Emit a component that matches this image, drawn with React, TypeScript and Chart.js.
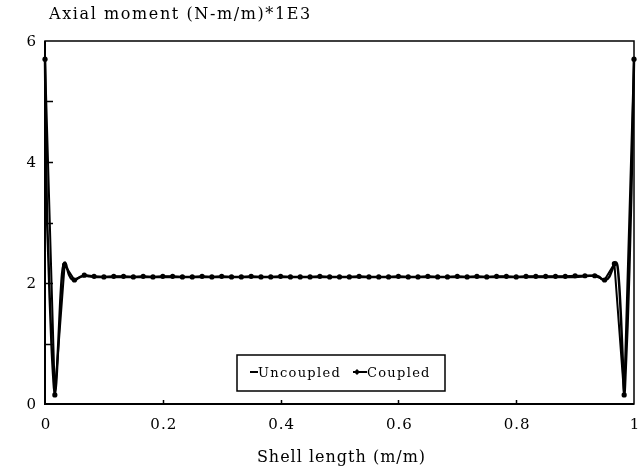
import { useEffect, useRef } from "react";
import { Chart, registerables } from "chart.js";

Chart.register(...registerables);

// Axial bending moment along the shell, two solution models
const chartTitle = "Axial moment (N-m/m)*1E3";
const xAxisTitle = "Shell length (m/m)";
const seriesNames = ["Uncoupled", "Coupled"];

const xTickValues = [0, 0.2, 0.4, 0.6, 0.8, 1];
const xTickLabels = ["0", "0.2", "0.4", "0.6", "0.8", "1"];
const yTickValues = [0, 2, 4, 6];
const yTickLabels = ["0", "2", "4", "6"];
const yMinorTicks = [1, 2, 3, 4, 5];
const xMinorTicks = [0.2, 0.4, 0.6, 0.8];

// Uncoupled solution (dense near the clamped ends)
const uncoupledX = [
  0, 0.0015, 0.003, 0.0055, 0.008, 0.011, 0.014, 0.0165, 0.019, 0.0226,
  0.026, 0.029, 0.032, 0.034, 0.037, 0.041, 0.046, 0.051, 0.056, 0.062,
  0.068, 0.075, 0.085, 0.1, 0.2, 0.3, 0.4, 0.5, 0.6, 0.7,
  0.8, 0.9, 0.915, 0.925, 0.935, 0.941, 0.946, 0.952, 0.958, 0.963,
  0.967, 0.9695, 0.972, 0.975, 0.978, 0.981, 0.9835, 0.986, 0.989, 0.992,
  0.9955, 0.998, 1,
];
const uncoupledY = [
  5.7, 4.4, 3.3, 2.5, 1.75, 1.0, 0.45, 0.15, 0.35, 1.0,
  1.7, 2.15, 2.32, 2.34, 2.26, 2.13, 2.06, 2.05, 2.08, 2.11,
  2.12, 2.11, 2.1, 2.1, 2.1, 2.1, 2.1, 2.1, 2.1, 2.1,
  2.1, 2.1, 2.11, 2.12, 2.12, 2.1, 2.06, 2.05, 2.1, 2.22,
  2.32, 2.34, 2.28, 1.95, 1.4, 0.7, 0.15, 0.6, 1.3, 2.2,
  3.5, 4.6, 5.7,
];

// Coupled solution, sampled at the mesh nodes
const coupledX = [
  0, 0.0167, 0.0333, 0.05, 0.0667, 0.0833, 0.1, 0.1167, 0.1333, 0.15,
  0.1667, 0.1833, 0.2, 0.2167, 0.2333, 0.25, 0.2667, 0.2833, 0.3, 0.3167,
  0.3333, 0.35, 0.3667, 0.3833, 0.4, 0.4167, 0.4333, 0.45, 0.4667, 0.4833,
  0.5, 0.5167, 0.5333, 0.55, 0.5667, 0.5833, 0.6, 0.6167, 0.6333, 0.65,
  0.6667, 0.6833, 0.7, 0.7167, 0.7333, 0.75, 0.7667, 0.7833, 0.8, 0.8167,
  0.8333, 0.85, 0.8667, 0.8833, 0.9, 0.9167, 0.9333, 0.95, 0.9667, 0.9833,
  1,
];
const coupledY = [
  5.7, 0.15, 2.3, 2.05, 2.13, 2.11, 2.1, 2.11, 2.11, 2.1,
  2.11, 2.1, 2.11, 2.11, 2.1, 2.1, 2.11, 2.1, 2.11, 2.1,
  2.1, 2.11, 2.1, 2.1, 2.11, 2.1, 2.1, 2.1, 2.11, 2.1,
  2.1, 2.1, 2.11, 2.1, 2.1, 2.1, 2.11, 2.1, 2.1, 2.11,
  2.1, 2.1, 2.11, 2.1, 2.11, 2.1, 2.11, 2.11, 2.1, 2.11,
  2.11, 2.11, 2.11, 2.11, 2.12, 2.12, 2.12, 2.05, 2.32, 0.15,
  5.7,
];

const SERIF = '"DejaVu Serif", "Liberation Serif", serif';

function spacedText(ctx: CanvasRenderingContext2D, text: string, x: number, y: number, spacing: number) {
  (ctx as any).letterSpacing = `${spacing}px`;
  ctx.fillText(text, x, y);
  (ctx as any).letterSpacing = "0px";
}

const framePlugin = {
  id: "frame",
  afterDraw(chart: any) {
    const { ctx, chartArea: a, scales } = chart;
    const xs = scales.x;
    const ys = scales.y;
    ctx.save();
    ctx.strokeStyle = "#000";
    ctx.fillStyle = "#000";

    // plot frame
    ctx.lineWidth = 1.5;
    ctx.strokeRect(a.left, a.top, a.right - a.left, a.bottom - a.top);
    ctx.lineWidth = 2;
    ctx.beginPath();
    ctx.moveTo(a.left, a.top);
    ctx.lineTo(a.left, a.bottom);
    ctx.lineTo(a.right, a.bottom);
    ctx.stroke();

    // inward tick marks
    ctx.lineWidth = 1.5;
    ctx.beginPath();
    for (const v of yMinorTicks) {
      const py = Math.round(ys.getPixelForValue(v)) + 0.5;
      ctx.moveTo(a.left, py);
      ctx.lineTo(a.left + 8, py);
    }
    for (const v of xMinorTicks) {
      const px = Math.round(xs.getPixelForValue(v)) + 0.5;
      ctx.moveTo(px, a.bottom);
      ctx.lineTo(px, a.bottom - 4);
    }
    ctx.stroke();

    // tick labels
    ctx.font = `15px ${SERIF}`;
    ctx.textBaseline = "middle";
    ctx.textAlign = "right";
    yTickValues.forEach((v, i) => {
      ctx.fillText(yTickLabels[i], a.left - 9, ys.getPixelForValue(v) + 1);
    });
    ctx.textAlign = "center";
    xTickValues.forEach((v, i) => {
      spacedText(ctx, xTickLabels[i], xs.getPixelForValue(v) + 1, a.bottom + 21, 1);
    });

    // axis titles
    ctx.font = `16px ${SERIF}`;
    ctx.textAlign = "left";
    ctx.textBaseline = "alphabetic";
    spacedText(ctx, chartTitle, a.left + 4, 19, 1.6);
    ctx.textAlign = "center";
    spacedText(ctx, xAxisTitle, (a.left + a.right) / 2 + 2, a.bottom + 58, 1);

    // legend box
    const bx = 237;
    const bw = 208;
    const by = a.bottom - 49;
    const bh = 36;
    ctx.lineWidth = 1.5;
    ctx.strokeRect(bx, by, bw, bh);
    const cy = by + bh / 2;
    ctx.font = `13px ${SERIF}`;
    ctx.textAlign = "left";
    ctx.textBaseline = "middle";
    ctx.lineWidth = 2;
    ctx.beginPath();
    ctx.moveTo(bx + 13, cy - 1);
    ctx.lineTo(bx + 21, cy - 1);
    ctx.stroke();
    spacedText(ctx, seriesNames[0], bx + 21, cy + 1, 1.3);
    ctx.beginPath();
    ctx.moveTo(bx + 116, cy - 1);
    ctx.lineTo(bx + 130, cy - 1);
    ctx.stroke();
    ctx.beginPath();
    ctx.moveTo(bx + 120, cy - 4);
    ctx.lineTo(bx + 123, cy - 1);
    ctx.lineTo(bx + 120, cy + 2);
    ctx.lineTo(bx + 117, cy - 1);
    ctx.closePath();
    ctx.fill();
    spacedText(ctx, seriesNames[1], bx + 130, cy + 1, 1.3);

    ctx.restore();
  },
};

export default function App() {
  const canvasRef = useRef<HTMLCanvasElement | null>(null);

  useEffect(() => {
    if (!canvasRef.current) return;
    const chart = new Chart(canvasRef.current, {
      type: "line",
      data: {
        datasets: [
          {
            label: seriesNames[0],
            data: uncoupledX.map((x, i) => ({ x, y: uncoupledY[i] })),
            borderColor: "#000",
            borderWidth: 2.5,
            pointRadius: 0,
            cubicInterpolationMode: "monotone",
            clip: false,
          },
          {
            label: seriesNames[1],
            data: coupledX.map((x, i) => ({ x, y: coupledY[i] })),
            borderColor: "#000",
            backgroundColor: "#000",
            borderWidth: 2,
            pointRadius: 2.6,
            pointBackgroundColor: "#000",
            pointBorderWidth: 0,
            tension: 0,
            clip: false,
          },
        ],
      },
      options: {
        animation: false,
        responsive: true,
        maintainAspectRatio: false,
        layout: { padding: { left: 45, top: 41, right: 7, bottom: 69 } },
        plugins: { legend: { display: false }, tooltip: { enabled: false }, title: { display: false } },
        scales: {
          x: { type: "linear", min: 0, max: 1, display: false },
          y: { type: "linear", min: 0, max: 6, display: false },
        },
      },
      plugins: [framePlugin],
    });
    return () => chart.destroy();
  }, []);

  return (
    <div style={{ position: "absolute", left: 0, top: 0, width: 641, height: 473, background: "#fff" }}>
      <canvas ref={canvasRef} />
    </div>
  );
}
